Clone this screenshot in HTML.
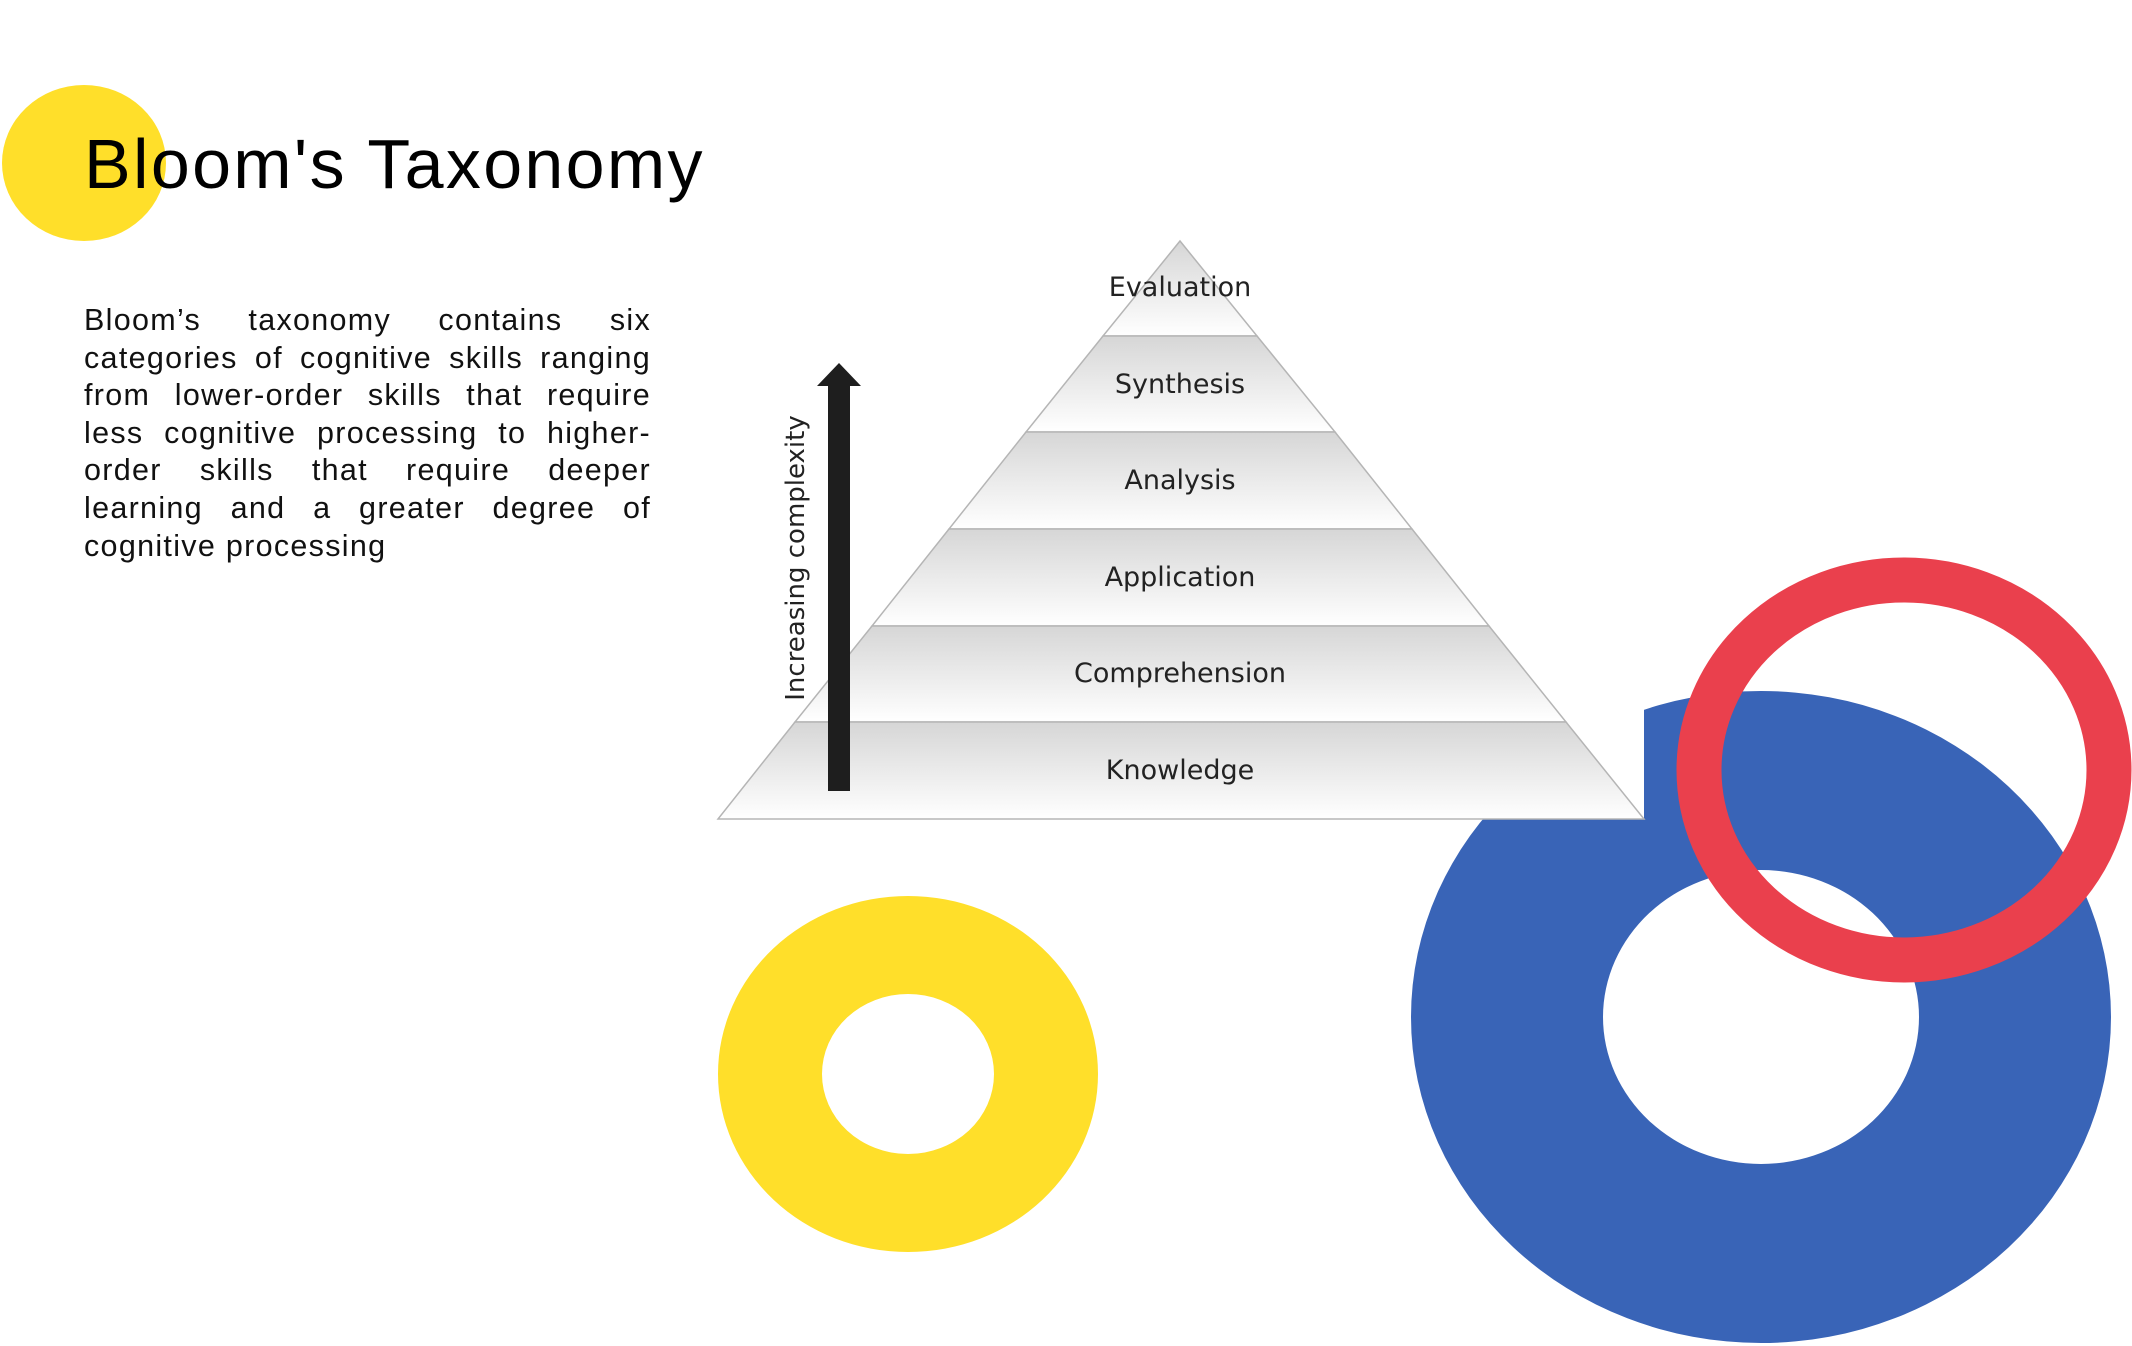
<!DOCTYPE html>
<html><head><meta charset="utf-8"><style>
html,body{margin:0;padding:0;background:#fff;}
body{width:2132px;height:1346px;overflow:hidden;position:relative;font-family:"Liberation Sans",sans-serif;}
svg{position:absolute;left:0;top:0;}
.p{position:absolute;left:84px;top:302px;width:567px;font-size:30.5px;letter-spacing:1.3px;line-height:37.6px;text-align:justify;color:#111;}
</style></head><body>
<svg width="2132" height="1346" viewBox="0 0 2132 1346">
<defs>
<linearGradient id="g" x1="0" y1="0" x2="0" y2="1">
<stop offset="0" stop-color="#d6d6d6"/><stop offset="1" stop-color="#ffffff"/>
</linearGradient>
</defs>
<ellipse cx="84" cy="163" rx="82" ry="78" fill="#FFDF2A"/>
<text x="84" y="188" font-size="70" letter-spacing="2.3" fill="#000" font-family="Liberation Sans, sans-serif">Bloom's Taxonomy</text>
<path fill-rule="evenodd" fill="#FFDF2A" d="M718,1074a190,178 0 1,0 380,0a190,178 0 1,0 -380,0Z M822,1074a86,80 0 1,0 172,0a86,80 0 1,0 -172,0Z"/>
<path fill-rule="evenodd" fill="#3964B7" d="M1411,1017a350,326 0 1,0 700,0a350,326 0 1,0 -700,0Z M1603,1017a158,147 0 1,0 316,0a158,147 0 1,0 -316,0Z"/>
<rect x="716" y="225" width="928" height="594" fill="#fff"/>
<g stroke="#b5b5b5" stroke-width="1.5">
<polygon points="1180,241 1257,336 1103,336" fill="url(#g)"/>
<polygon points="1103,336 1257,336 1335,432 1026,432" fill="url(#g)"/>
<polygon points="1026,432 1335,432 1412,529 949,529" fill="url(#g)"/>
<polygon points="949,529 1412,529 1489,626 872,626" fill="url(#g)"/>
<polygon points="872,626 1489,626 1566,722 795,722" fill="url(#g)"/>
<polygon points="795,722 1566,722 1644,819 718,819" fill="url(#g)"/>
</g>
<g font-family="DejaVu Sans, sans-serif" font-size="27" fill="#222" text-anchor="middle">
<text x="1180" y="296">Evaluation</text>
<text x="1180" y="393">Synthesis</text>
<text x="1180" y="489">Analysis</text>
<text x="1180" y="586">Application</text>
<text x="1180" y="682">Comprehension</text>
<text x="1180" y="779">Knowledge</text>
</g>
<rect x="828" y="384" width="22" height="407" fill="#1e1e1e"/>
<polygon points="817,386 861,386 839,363" fill="#1e1e1e"/>
<text transform="translate(804,558) rotate(-90)" text-anchor="middle" font-size="26" fill="#222" font-family="DejaVu Sans, sans-serif">Increasing complexity</text>
<ellipse cx="1904" cy="770" rx="205" ry="190" fill="none" stroke="#EA404D" stroke-width="45"/>
</svg>
<div class="p">Bloom’s taxonomy contains six categories of cognitive skills ranging from lower-order skills that require less cognitive processing to higher-order skills that require deeper learning and a greater degree of cognitive processing</div>
</body></html>
